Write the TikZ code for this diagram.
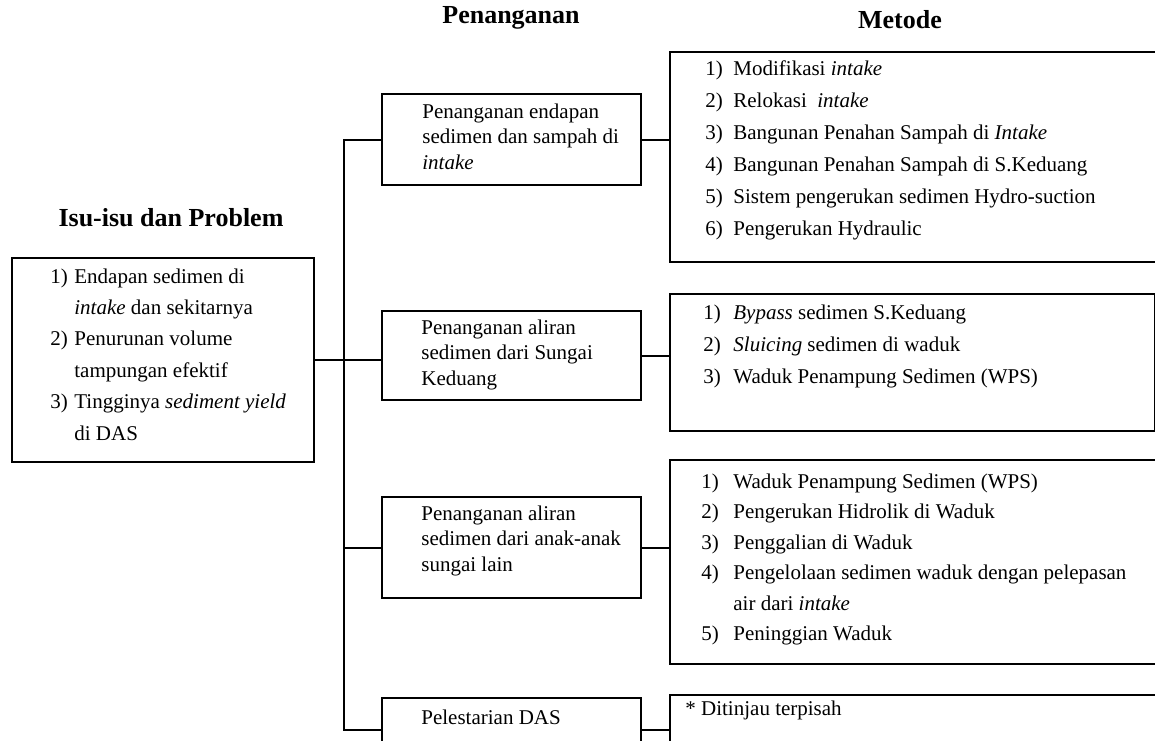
\documentclass[tikz,border=0pt]{standalone}
\usepackage{fontspec}
\setmainfont{Liberation Serif}

\begin{document}
\begin{tikzpicture}[x=0.5pt,y=-0.5pt]
\tikzstyle{every node}+=[inner sep=0pt]
\tikzstyle{box}=[draw,line width=1pt,anchor=north west]
\tikzstyle{txt}=[anchor=base west,font=\fontsize{10.5}{12}\selectfont]
\tikzstyle{head}=[anchor=base,font=\fontsize{13}{15}\selectfont\bfseries]
\tikzstyle{link}=[line width=1pt]
\useasboundingbox (0,0) rectangle (1155,740);
\clip (0,0) rectangle (1155,740);
\node[head] (hisu) at (171,226) {Isu-isu dan Problem};
\node[head] (hpen) at (511,23) {Penanganan};
\node[head] (hmet) at (900,28) {Metode};
\node[box,minimum width=151pt,minimum height=102pt] (isu) at (11,257) {};
\node[box,minimum width=129.5pt,minimum height=45.5pt] (b1) at (381,93) {};
\node[box,minimum width=129.5pt,minimum height=44.5pt] (b2) at (381,310) {};
\node[box,minimum width=129.5pt,minimum height=50.5pt] (b3) at (381,496) {};
\node[box,minimum width=129.5pt,minimum height=32pt] (b4) at (381,697) {};
\node[box,minimum width=250.5pt,minimum height=105pt] (m1) at (669,51) {};
\node[box,minimum width=242.5pt,minimum height=68.5pt] (m2) at (669,293) {};
\node[box,minimum width=250.5pt,minimum height=102pt] (m3) at (669,459) {};
\node[box,minimum width=250.5pt,minimum height=35pt] (m4) at (669,694) {};
\foreach \n/\t [count=\i] in {1)/Endapan sedimen di, /\textit{intake} dan sekitarnya, 2)/Penurunan volume, /tampungan efektif, 3)/Tingginya \textit{sediment yield}, /di DAS} {
  \node[txt] (isu-n\i) at (50,{283+31.4*(\i-1)}) {\n};
  \node[txt] (isu-t\i) at (74,{283+31.4*(\i-1)}) {\t};
}
\foreach \t [count=\i] in {Penanganan endapan, sedimen dan sampah di, \textit{intake}}
  \node[txt] (b1-\i) at (422,{118+25.5*(\i-1)}) {\t};
\foreach \t [count=\i] in {Penanganan aliran, sedimen dari Sungai, Keduang}
  \node[txt] (b2-\i) at (421,{334+25.5*(\i-1)}) {\t};
\foreach \t [count=\i] in {Penanganan aliran, sedimen dari anak-anak, sungai lain}
  \node[txt] (b3-\i) at (421,{520+25.5*(\i-1)}) {\t};
\node[txt] (b4-1) at (421,724) {Pelestarian DAS};
\foreach \n/\t [count=\i] in {1)/Modifikasi \textit{intake}, 2)/Relokasi\ \ \textit{intake}, 3)/Bangunan Penahan Sampah di \textit{Intake}, 4)/Bangunan Penahan Sampah di S.Keduang, 5)/Sistem pengerukan sedimen Hydro-suction, 6)/Pengerukan Hydraulic} {
  \node[txt] (m1-n\i) at (705,{75+32*(\i-1)}) {\n};
  \node[txt] (m1-t\i) at (733,{75+32*(\i-1)}) {\t};
}
\foreach \n/\t [count=\i] in {1)/\textit{Bypass} sedimen S.Keduang, 2)/\textit{Sluicing} sedimen di waduk, 3)/Waduk Penampung Sedimen (WPS)} {
  \node[txt] (m2-n\i) at (703,{319+32*(\i-1)}) {\n};
  \node[txt] (m2-t\i) at (733,{319+32*(\i-1)}) {\t};
}
\foreach \n/\t [count=\i] in {1)/Waduk Penampung Sedimen (WPS), 2)/Pengerukan Hidrolik di Waduk, 3)/Penggalian di Waduk, 4)/Pengelolaan sedimen waduk dengan pelepasan, /air dari \textit{intake}, 5)/Peninggian Waduk} {
  \node[txt] (m3-n\i) at (701,{488+30.5*(\i-1)}) {\n};
  \node[txt] (m3-t\i) at (733,{488+30.5*(\i-1)}) {\t};
}
\node[txt] (m4-1) at (685,715) {* Ditinjau terpisah};
\coordinate (trunk) at (344,0);
\draw[link] (b1.west) -| (trunk |- b4.west) -- (b4.west);
\draw[link] (trunk |- b3.west) -- (b3.west);
\draw[link] (isu.east) -- (isu.east -| b2.west);
\foreach \b/\m in {b1/m1,b2/m2,b3/m3,b4/m4}
  \draw[link] (\b.east) -- (\b.east -| \m.west);
\end{tikzpicture}
\end{document}
